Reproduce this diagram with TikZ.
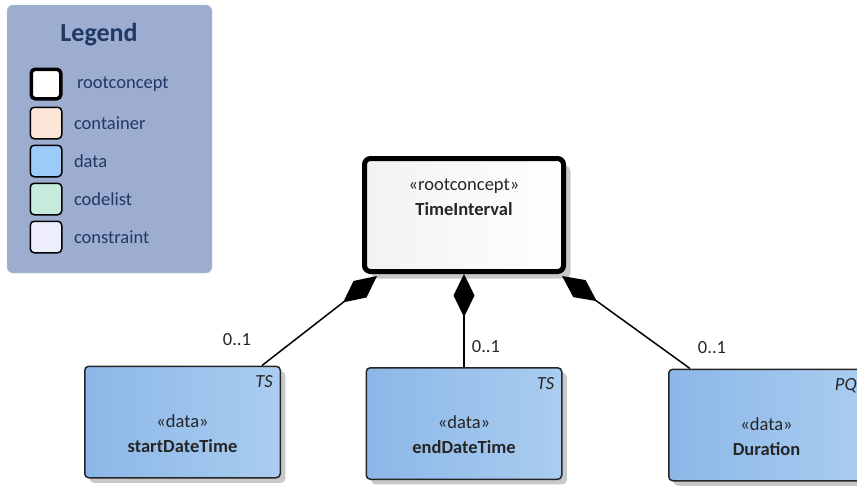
\documentclass[tikz,border=0pt]{standalone}
\usepackage{fontspec}
\setmainfont{Carlito}
\usetikzlibrary{arrows.meta,shadows,positioning}

\definecolor{legendfond}{HTML}{9DADD0}
\definecolor{legendtexte}{HTML}{1F3864}
\definecolor{conteneur}{HTML}{FBE5D6}
\definecolor{donnees}{HTML}{9CCBF9}
\definecolor{codes}{HTML}{C6EBDC}
\definecolor{contrainte}{HTML}{EDEDFC}
\definecolor{datafonce}{HTML}{8BB7E8}
\definecolor{dataclair}{HTML}{AACDF0}
\definecolor{ombre}{HTML}{C8C8C8}

\tikzset{
  texte/.style={font=\fontsize{18.5}{25}\selectfont, text=black!85},
  legtexte/.style={font=\fontsize{18.5}{25}\selectfont, text=legendtexte},
  carre/.style={draw=black, rounded corners=4pt, minimum size=32pt, inner sep=0pt},
  racine/.style={draw=black, line width=5pt, rounded corners=6pt,
    minimum width=199pt, minimum height=113pt,
    left color=gray!10, right color=white,
    drop shadow={shadow xshift=7pt, shadow yshift=-7pt, fill=ombre, opacity=1}},
  donnee/.style={draw=black!85, line width=1.5pt, rounded corners=4pt,
    minimum width=195.5pt, minimum height=111.5pt,
    left color=datafonce, right color=dataclair,
    drop shadow={shadow xshift=5pt, shadow yshift=-5pt, fill=ombre, opacity=1}},
  compo/.style={line width=1.5pt, {Diamond[length=43pt, width=21pt]}-},
}

\begin{document}
\begin{tikzpicture}[x=1pt, y=-1pt]
    \useasboundingbox (0,0) rectangle (857,485);

    % Legende
    \node (legende) [draw=legendfond!70!white, fill=legendfond, rounded corners=6pt,
      minimum width=205pt, minimum height=268pt] at (109.5,139) {};
    \node (titre) [font=\fontsize{26}{30}\selectfont\bfseries, text=legendtexte]
      at (99,35) {Legend};
    \foreach \nom/\coul/\y/\ep/\dx in {rootconcept/white/84/3.5pt/11pt, container/conteneur/123/1.5pt/8pt,
      data/donnees/161/1.5pt/8pt, codelist/codes/199/1.5pt/8pt, constraint/contrainte/237/1.5pt/8pt} {
      \node (sw-\nom) [carre, fill=\coul, line width=\ep, minimum size=33pt-\ep] at (46,\y) {};
      \node (lb-\nom) [legtexte, right=\dx of sw-\nom] {\nom};
    }

    % Concept racine
    \node (racine) [racine] at (464,215) {};
    \node (racine-txt) [texte, align=center] at ([yshift=17.5pt]racine.center)
      {«rootconcept»\\\textbf{TimeInterval}};

    % Types de donnees
    \node (start) [donnee] at (182.5,422) {};
    \node (end) [donnee] at (464,423.5) {};
    \node (dur) [donnee] at (766.5,425) {};
    \foreach \n/\titre/\type in {start/startDateTime/TS, end/endDateTime/TS, dur/Duration/PQ} {
      \node (\n-txt) [texte, align=center] at ([yshift=-11.5pt]\n.center)
        {«data»\\\textbf{\titre}};
      \node (\n-type) [texte, anchor=north east, inner xsep=8pt, inner ysep=10pt]
        at (\n.north east) {\textit{\type}};
    }

    % Compositions
    \coordinate (pointeG) at ([xshift=15pt, yshift=-2pt]racine.south west);
    \coordinate (pointeD) at ([xshift=-4pt, yshift=-2pt]racine.south east);
    \draw[compo] (pointeG) -- ([xshift=-19pt]start.north east);
    \draw[compo] (racine.south) -- (end.north);
    \draw[compo] (pointeD) -- ([xshift=22pt]dur.north west);

    % Multiplicites
    \node (multG) [texte] at ([shift={(-44,-26)}]start.north east) {0..1};
    \node (multC) [texte] at ([shift={(22,-20)}]end.north) {0..1};
    \node (multD) [texte] at ([shift={(44,-21)}]dur.north west) {0..1};
  \end{tikzpicture}
\end{document}
